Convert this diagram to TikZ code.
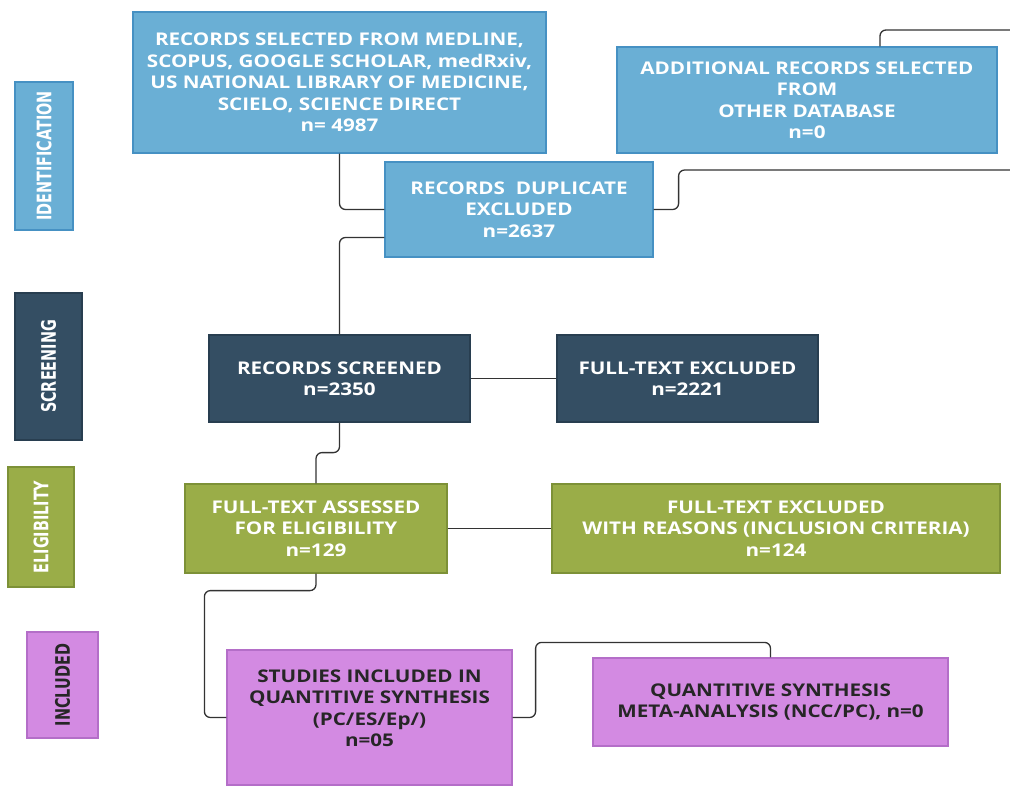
\documentclass[tikz,border=0pt]{standalone}
\usepackage{fontspec}
\setmainfont{Open Sans}[FakeStretch=1.18]
\newfontfamily\sidefont{DejaVu Sans Condensed}[FakeStretch=0.8]
\usetikzlibrary{positioning, calc}

\tikzset{
    box/.style={draw, line width=1.2pt, inner sep=2pt, align=center,
        font=\bfseries\fontsize{17.5}{21.5}\selectfont},
    idbox/.style={box, fill=idfill, draw=idline, text=white},
    scrbox/.style={box, fill=scrfill, draw=scrline, text=white},
    eligbox/.style={box, fill=eligfill, draw=eligline, text=white},
    inclbox/.style={box, fill=inclfill, draw=inclline, text=black!85},
    sidelab/.style={draw, line width=1.2pt, rotate=90, inner sep=0pt,
        font=\sidefont\bfseries\fontsize{20}{21}\selectfont},
    link/.style={draw=black!80, line width=1.3pt, rounded corners=6pt}
}

\begin{document}
\begin{tikzpicture}[x=1pt, y=-1pt]

% --- COLOURS ---
\definecolor{idfill}{RGB}{106, 175, 213}   % identification blue
\definecolor{idline}{RGB}{70, 145, 195}
\definecolor{scrfill}{RGB}{52, 78, 99}     % screening slate
\definecolor{scrline}{RGB}{40, 62, 80}
\definecolor{eligfill}{RGB}{154, 173, 72}  % eligibility olive
\definecolor{eligline}{RGB}{125, 145, 55}
\definecolor{inclfill}{RGB}{211, 138, 226} % included violet
\definecolor{inclline}{RGB}{180, 110, 200}

\useasboundingbox (0,0) rectangle (1010,785);

% --- PHASE LABELS (left) ---
\node[sidelab, fill=idfill, draw=idline, text=white,
    minimum width=148pt, minimum height=58pt] (idlab) at (44,156) {IDENTIFICATION};
\node[sidelab, fill=scrfill, draw=scrline, text=white,
    minimum width=147pt, minimum height=67pt] (scrlab) at (48.5,366.5) {SCREENING};
\node[sidelab, fill=eligfill, draw=eligline, text=white,
    minimum width=120pt, minimum height=66pt] (eliglab) at (41,527) {ELIGIBILITY};
\node[sidelab, fill=inclfill, draw=inclline, text=black!85,
    minimum width=106pt, minimum height=71pt] (inclab) at (62.5,685) {INCLUDED};

% --- IDENTIFICATION ---
\node[idbox, minimum width=413pt, minimum height=141pt] (recsel) at (339.5,82.5)
    {RECORDS SELECTED FROM MEDLINE,\\SCOPUS, GOOGLE SCHOLAR, medRxiv,\\
     US NATIONAL LIBRARY OF MEDICINE,\\SCIELO, SCIENCE DIRECT\\n= 4987};
\node[idbox, minimum width=380pt, minimum height=106pt] (addrec) at (807,100)
    {ADDITIONAL RECORDS SELECTED\\FROM\\OTHER DATABASE\\n=0};
\node[idbox, minimum width=268pt, minimum height=95pt] (dupl) at (519,209.5)
    {RECORDS\ \ DUPLICATE\\EXCLUDED\\n=2637};

% --- SCREENING ---
\node[scrbox, minimum width=261pt, minimum height=87pt] (screened) at (339.5,378.5)
    {RECORDS SCREENED\\n=2350};
\node[scrbox, minimum width=261pt, minimum height=87pt] (ftexcl) at (687.5,378.5)
    {FULL-TEXT EXCLUDED\\n=2221};

% --- ELIGIBILITY ---
\node[eligbox, minimum width=262pt, minimum height=89pt] (ftassess) at (316,528.5)
    {FULL-TEXT ASSESSED\\FOR ELIGIBILITY\\n=129};
\node[eligbox, minimum width=448pt, minimum height=89pt] (ftreason) at (776,528.5)
    {FULL-TEXT EXCLUDED\\WITH REASONS (INCLUSION CRITERIA)\\n=124};

% --- INCLUDED ---
\node[inclbox, minimum width=285pt, minimum height=135pt, text depth=0pt] (studies) at (369.5,717.5)
    {STUDIES INCLUDED IN\\QUANTITIVE SYNTHESIS\\(PC/ES/Ep/)\\n=05\\[-3pt]};
\node[inclbox, minimum width=355pt, minimum height=88pt] (metasyn) at (770.5,702)
    {QUANTITIVE SYNTHESIS\\META-ANALYSIS (NCC/PC), n=0};

% --- CONNECTORS ---
\coordinate (outA) at (1012,30);
\coordinate (outB) at (1012,170);
\draw[link] (recsel.south) |- (dupl.west);
\draw[link] ([xshift=73pt]addrec.north) |- (outA);
\draw[link] (dupl.east) -- ++(25,0) |- (outB);
\draw[link] (dupl.west) ++(0,28) -| (screened.north);
\draw[link] (screened.east) -- (ftexcl.west);
\draw[link] (screened.south) -- ++(0,30) -| (ftassess.north);
\draw[link] (ftassess.east) -- (ftreason.west);
\draw[link] (ftassess.south) -- ++(0,17) -| ([xshift=-22pt]studies.west) -- (studies.west);
\draw[link] (studies.east) -- ++(23,0) |- ([yshift=15pt]metasyn.north) -- (metasyn.north);

\end{tikzpicture}
\end{document}
